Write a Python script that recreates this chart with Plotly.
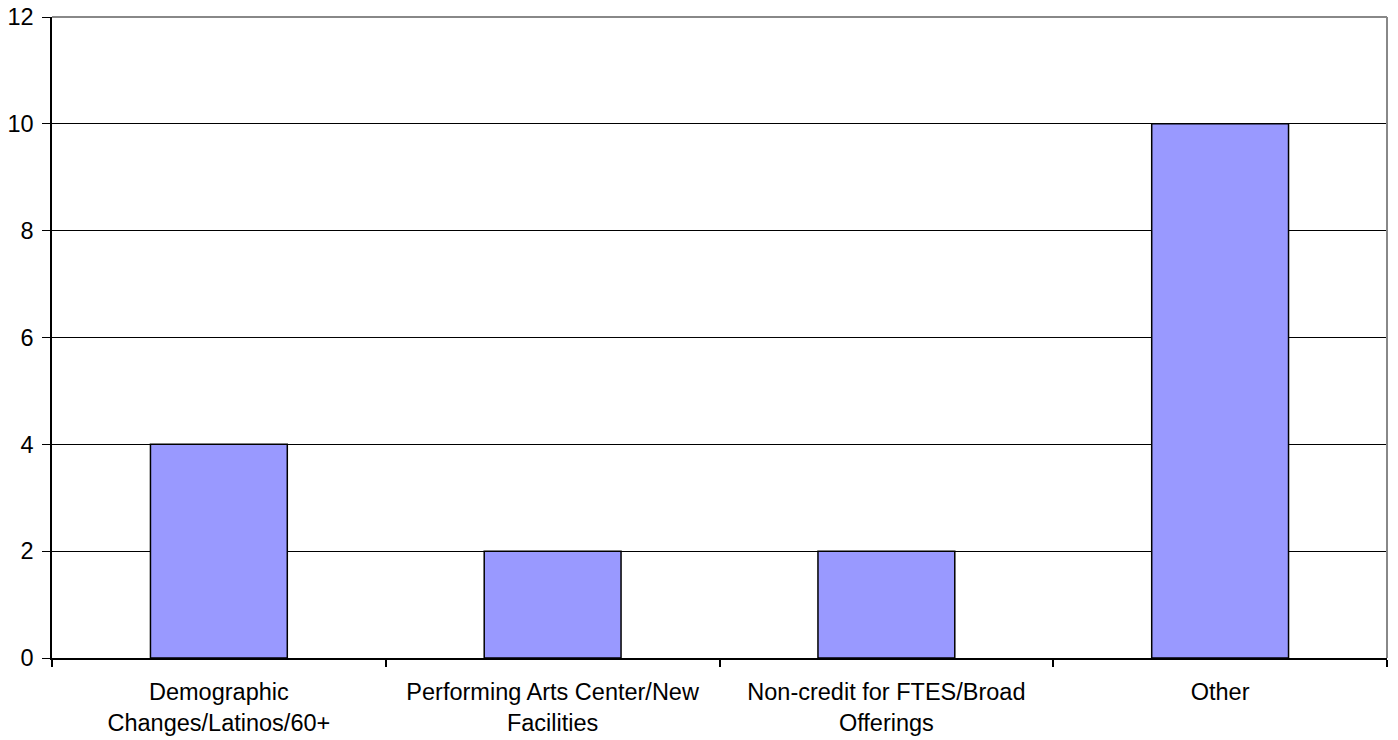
import plotly.graph_objects as go

categories = ["Demographic<br>Changes/Latinos/60+", "Performing Arts Center/New<br>Facilities",
              "Non-credit for FTES/Broad<br>Offerings", "Other"]
values = [4, 2, 2, 10]
y_ticks = [0, 2, 4, 6, 8, 10, 12]

fig = go.Figure(go.Bar(x=categories, y=values, marker=dict(color="#9999FF", line=dict(color="black", width=1.5)),
                       width=0.41))

fig.update_layout(
    width=1398, height=740,
    margin=dict(l=52, r=11, t=17, b=82),
    paper_bgcolor="white", plot_bgcolor="white",
    font=dict(family="Liberation Sans, Arial, sans-serif", size=23.5, color="black"),
    showlegend=False,
)
fig.update_xaxes(showline=True, linecolor="black", linewidth=1.5, ticks="outside", tickson="boundaries",
                 ticklen=7, tickcolor="black", tickwidth=1.5, showgrid=False, automargin=False,
                 ticklabelstandoff=12, tickfont=dict(size=23.5))
fig.update_yaxes(range=[0, 12], tickvals=y_ticks, showline=True, linecolor="black", linewidth=1.5,
                 ticks="outside", ticklen=8, tickcolor="black", tickwidth=1, showgrid=True,
                 gridcolor="black", gridwidth=1, zeroline=False, automargin=False,
                 ticklabelstandoff=4, tickfont=dict(size=23.5))
fig.add_shape(type="line", xref="paper", yref="paper", x0=0, x1=1, y0=1, y1=1,
              line=dict(color="#888888", width=2))
fig.add_shape(type="line", xref="paper", yref="paper", x0=1, x1=1, y0=0, y1=1,
              line=dict(color="#888888", width=2))
fig.write_html("out.html")
